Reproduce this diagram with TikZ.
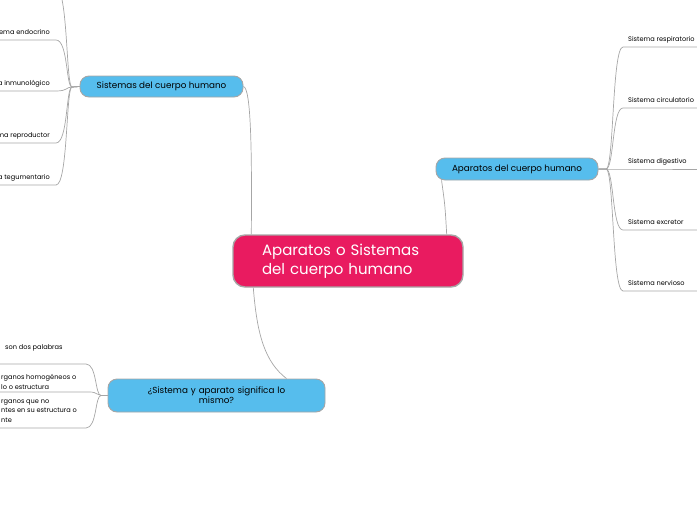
\documentclass[tikz,border=0pt]{standalone}
\usepackage{fontspec}
\setmainfont{Poppins}
\usetikzlibrary{calc,backgrounds}
\definecolor{rootpink}{HTML}{E91B60}
\definecolor{topicblue}{HTML}{56BDED}
\definecolor{edgegray}{HTML}{A6A6A6}

\begin{document}
\begin{tikzpicture}[
  x=1pt, y=-1pt,
  root/.style={draw=edgegray, line width=1.4pt, fill=rootpink, rounded corners=12pt,
    text=white, font=\fontsize{15}{19}\selectfont, align=left,
    text width=172pt, inner xsep=29pt, inner ysep=0pt, minimum height=52pt},
  topic/.style={draw=edgegray, line width=0.9pt, fill=topicblue, rounded corners=9pt,
    font=\fontsize{8.8}{10}\selectfont, align=center, inner sep=0pt},
  leaf/.style={font=\fontsize{6.6}{9.5}\selectfont, inner sep=0pt},
  link/.style={draw=edgegray, line width=0.7pt}
]
\useasboundingbox (0,0) rectangle (697,520);
\clip (0,0) rectangle (697,520);

\node[root] (cen) at (348,261) {Aparatos o Sistemas\\del cuerpo humano};
\node[topic, minimum width=163pt, minimum height=21pt] (sis) at (161.5,86.5)
  {Sistemas del cuerpo humano};
\node[topic, minimum width=162pt, minimum height=22pt] (apa) at (517,169)
  {Aparatos del cuerpo humano};
\node[topic, minimum width=217pt, minimum height=33pt, text width=170pt] (preg) at (216.5,395.5)
  {¿Sistema y aparato significa lo\\mismo?};

% hijos de "Sistemas"
\coordinate (arriba) at (56,-12);
\node[leaf, anchor=base east] (endo) at (50,34) {Sistema endocrino};
\node[leaf, anchor=base east] (inmu) at (50,85) {Sistema inmunológico};
\node[leaf, anchor=base east] (repro) at (50,137) {Sistema reproductor};
\node[leaf, anchor=base east] (tegu) at (50,179) {Sistema tegumentario};

% hijos de "Aparatos"
\node[leaf, anchor=base west] (resp) at (628,41) {Sistema respiratorio};
\node[leaf, anchor=base west] (circ) at (628,102) {Sistema circulatorio};
\node[leaf, anchor=base west] (dige) at (628,163) {Sistema digestivo};
\node[leaf, anchor=base west] (excr) at (628,224) {Sistema excretor};
\node[leaf, anchor=base west] (nerv) at (628,285) {Sistema nervioso};

% hijos de la pregunta
\node[leaf, anchor=base west] (dos) at (5,349) {son dos palabras};
\node[leaf, anchor=north west, align=left] (homo) at (1,374.5)
  {rganos homogéneos o\\lo o estructura};
\node[leaf, anchor=north west, align=left] (nohomo) at (1,399.5)
  {rganos que no\\ntes en su estructura o\\nte};

\begin{scope}[on background layer]
\draw[link] (sis.east) .. controls (251,88) and (252,150) .. ($(cen.north west)+(19,0)$);
\draw[link] ($(apa.south west)+(6,0)$) .. controls (445,205) .. ($(cen.north east)+(-17,0)$);
\draw[link] ($(cen.south west)+(21,0)$) .. controls (257,335) and (265,362) .. ($(preg.north)+(70,0)$);

\draw[link] (sis.west) -- (72,87) .. controls (66,87) and (68,-12) .. (arriba) -- ++(-90,0);
\draw[link] (sis.west) -- (72,87) .. controls (66,87) and (68,40) .. ($(endo.base east)+(6,6)$) -- ++(-90,0);
\draw[link] (sis.west) -- (72,87) .. controls (66,87) and (68,91) .. ($(inmu.base east)+(6,6)$) -- ++(-90,0);
\draw[link] (sis.west) -- (72,87) .. controls (66,87) and (68,143) .. ($(repro.base east)+(6,6)$) -- ++(-90,0);
\draw[link] (sis.west) -- (72,87) .. controls (66,87) and (68,185) .. ($(tegu.base east)+(6,6)$) -- ++(-90,0);

\draw[link] (apa.east) -- (606,169) .. controls (614,169) and (612,47) .. ($(resp.base west)+(-5,6)$) -- ++(90,0);
\draw[link] (apa.east) -- (606,169) .. controls (614,169) and (612,108) .. ($(circ.base west)+(-5,6)$) -- ++(90,0);
\draw[link] (apa.east) -- ($(dige.base west)+(0,6)$) -- ++(90,0);
\draw[link] (apa.east) -- (606,169) .. controls (614,169) and (612,230) .. ($(excr.base west)+(-5,6)$) -- ++(90,0);
\draw[link] (apa.east) -- (606,169) .. controls (614,169) and (612,291) .. ($(nerv.base west)+(-5,6)$) -- ++(90,0);

\draw[link] (preg.west) -- (101,395.5) .. controls (95,395.5) and (97,364) .. (86,364) -- (dos.base west |- 0,364) -- ++(-20,0);
\draw[link] (preg.west) -- (101,395.5) .. controls (97,395.5) and (97,392) .. (90,392) -- (homo.south west |- 0,392) -- ++(-20,0);
\draw[link] (preg.west) -- (101,395.5) .. controls (95,395.5) and (97,428) .. (86,428) -- (nohomo.south west |- 0,428) -- ++(-20,0);
\end{scope}
\end{tikzpicture}
\end{document}
